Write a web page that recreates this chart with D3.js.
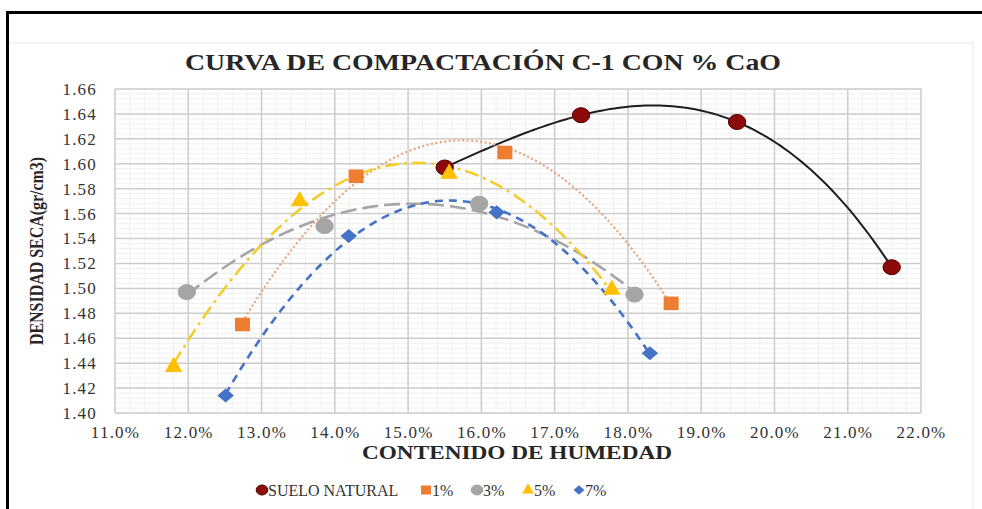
<!DOCTYPE html>
<html>
<head>
<meta charset="utf-8">
<script src="https://cdn.jsdelivr.net/npm/d3@7"></script>
<style>
  body { margin: 0; background: #fff; }
  svg { display: block; }
</style>
</head>
<body>
<svg id="chart" width="982" height="509"></svg>
<script>
// values (humidity %, dry density gr/cm3)
var sueloX = [15.5, 17.36, 19.49, 21.6];
var sueloY = [1.597, 1.639, 1.6335, 1.517];
var cal1X = [12.74, 14.29, 16.32, 18.59];
var cal1Y = [1.471, 1.590, 1.609, 1.488];
var cal3X = [11.98, 13.86, 15.97, 18.09];
var cal3Y = [1.497, 1.550, 1.568, 1.495];
var cal5X = [11.8, 13.52, 15.56, 17.78];
var cal5Y = [1.437, 1.570, 1.592, 1.499];
var cal7X = [12.51, 14.19, 16.21, 18.3];
var cal7Y = [1.414, 1.542, 1.561, 1.448];

var xTicks = [11, 12, 13, 14, 15, 16, 17, 18, 19, 20, 21, 22];
var yTicks = [1.40, 1.42, 1.44, 1.46, 1.48, 1.50, 1.52, 1.54, 1.56, 1.58, 1.60, 1.62, 1.64, 1.66];
var legendNames = ["SUELO NATURAL", "1%", "3%", "5%", "7%"];

var FONT = "'Liberation Serif', 'Times New Roman', Tinos, 'DejaVu Serif', serif";

var series = [
    { name: legendNames[0], xs: sueloX, ys: sueloY, order: 3, color: "#8b0a0a", stroke: "#5a0000",
      line: "#1e1e1e", dash: null, lw: 2, shape: "circle" },
    { name: legendNames[1], xs: cal1X, ys: cal1Y, order: 2, color: "#ed7d31", stroke: "#ed7d31",
      line: "#e9a47a", dash: "2,2.5", lw: 2.2, shape: "square" },
    { name: legendNames[2], xs: cal3X, ys: cal3Y, order: 2, color: "#a5a5a5", stroke: "#a5a5a5",
      line: "#a5a5a5", dash: "16,6", lw: 2.6, shape: "circle2" },
    { name: legendNames[3], xs: cal5X, ys: cal5Y, order: 2, color: "#ffc000", stroke: "#ffc000",
      line: "#f2cd2e", dash: "14,5,3,5", lw: 2.6, shape: "triangle" },
    { name: legendNames[4], xs: cal7X, ys: cal7Y, order: 2, color: "#4472c4", stroke: "#4472c4",
      line: "#4472c4", dash: "8,6", lw: 2.6, shape: "diamond" }
];

// least squares polynomial trendline, like the spreadsheet one
function polyFit(xs, ys, order) {
    var n = order + 1, A = [], i, j, k;
    for (i = 0; i < n; i++) {
        A.push([]);
        for (j = 0; j < n; j++) A[i].push(d3.sum(xs, function(x) { return Math.pow(x, i + j); }));
        A[i].push(d3.sum(xs, function(x, idx) { return ys[idx] * Math.pow(x, i); }));
    }
    for (i = 0; i < n; i++) {
        var p = i;
        for (k = i + 1; k < n; k++) if (Math.abs(A[k][i]) > Math.abs(A[p][i])) p = k;
        var t = A[i]; A[i] = A[p]; A[p] = t;
        for (k = i + 1; k < n; k++) {
            var f = A[k][i] / A[i][i];
            for (j = i; j <= n; j++) A[k][j] -= f * A[i][j];
        }
    }
    var c = new Array(n);
    for (i = n - 1; i >= 0; i--) {
        var s = A[i][n];
        for (j = i + 1; j < n; j++) s -= A[i][j] * c[j];
        c[i] = s / A[i][i];
    }
    return function(x) {
        var v = 0;
        for (var q = 0; q < n; q++) v += c[q] * Math.pow(x, q);
        return v;
    };
}

var svg = d3.select("#chart");
var plotL = 115, plotR = 921, plotT = 89, plotB = 413;

var x = d3.scaleLinear().domain([11, 22]).range([plotL, plotR]);
var y = d3.scaleLinear().domain([1.40, 1.66]).range([plotB, plotT]);

// outer frame
svg.append("rect").attr("x", 8).attr("y", 43).attr("width", 965).attr("height", 480)
    .attr("fill", "none").attr("stroke", "#e8e8e8");
svg.append("path").attr("d", "M7.5,520 V12.5 H982")
    .attr("fill", "none").attr("stroke", "#000").attr("stroke-width", 3);

// minor grid
var g = svg.append("g");
g.selectAll(".mx").data(d3.range(11, 22.001, 0.2)).enter().append("line")
    .attr("x1", function(d) { return x(d); }).attr("x2", function(d) { return x(d); })
    .attr("y1", plotT).attr("y2", plotB).attr("stroke", "#f0f0f0").attr("stroke-width", 1);
g.selectAll(".my").data(d3.range(1.40, 1.6601, 0.004)).enter().append("line")
    .attr("y1", function(d) { return y(d); }).attr("y2", function(d) { return y(d); })
    .attr("x1", plotL).attr("x2", plotR).attr("stroke", "#f0f0f0").attr("stroke-width", 1);

// major grid
g.selectAll(".gx").data(xTicks).enter().append("line")
    .attr("x1", function(d) { return x(d); }).attr("x2", function(d) { return x(d); })
    .attr("y1", plotT).attr("y2", plotB).attr("stroke", "#cdcdcd").attr("stroke-width", 1.5);
g.selectAll(".gy").data(yTicks).enter().append("line")
    .attr("y1", function(d) { return y(d); }).attr("y2", function(d) { return y(d); })
    .attr("x1", plotL).attr("x2", plotR).attr("stroke", "#cdcdcd").attr("stroke-width", 1.5);

// axes labels
var xAxis = svg.append("g").attr("transform", "translate(0," + plotB + ")")
    .call(d3.axisBottom(x).tickValues(xTicks).tickSize(0).tickPadding(13)
        .tickFormat(function(d) { return d.toFixed(1) + "%"; }));
var yAxis = svg.append("g").attr("transform", "translate(" + plotL + ",0)")
    .call(d3.axisLeft(y).tickValues(yTicks).tickSize(0).tickPadding(18)
        .tickFormat(d3.format(".2f")));
[xAxis, yAxis].forEach(function(a) {
    a.select(".domain").remove();
    a.attr("font-family", FONT);
    a.selectAll("text").attr("font-size", 17).style("font-family", FONT)
        .attr("fill", "#333").style("letter-spacing", "1.2px");
});

// trendlines
var line = d3.line().x(function(d) { return x(d[0]); }).y(function(d) { return y(d[1]); });
series.forEach(function(s) {
    var f = polyFit(s.xs, s.ys, s.order);
    var x0 = d3.min(s.xs), x1 = d3.max(s.xs);
    var pts = d3.range(0, 101).map(function(i) { var xv = x0 + (x1 - x0) * i / 100; return [xv, f(xv)]; });
    svg.append("path").datum(pts).attr("d", line).attr("fill", "none")
        .attr("stroke", s.line).attr("stroke-width", s.lw)
        .attr("stroke-dasharray", s.dash);
});

function marker(sel, s, size) {
    if (s.shape === "square") {
        sel.append("rect").attr("x", -size * 0.5).attr("y", -size * 0.45).attr("width", size).attr("height", size * 0.9)
            .attr("fill", s.color);
    } else if (s.shape === "triangle") {
        sel.append("path").attr("d", d3.symbol(d3.symbolTriangle, size * size * 0.6)())
            .attr("fill", s.color);
    } else if (s.shape === "diamond") {
        var r = size * 0.55;
        sel.append("path").attr("d", "M0," + (-r * 0.85) + "L" + r + ",0L0," + (r * 0.85) + "L" + (-r) + ",0Z")
            .attr("fill", s.color);
    } else {
        sel.append("ellipse").attr("rx", size * 0.58).attr("ry", size * 0.5)
            .attr("fill", s.color).attr("stroke", s.stroke).attr("stroke-width", 1);
    }
}

series.forEach(function(s) {
    s.xs.forEach(function(xv, i) {
        var m = svg.append("g").attr("transform", "translate(" + x(xv) + "," + y(s.ys[i]) + ")");
        marker(m, s, 15);
    });
});

// titles
svg.append("text").attr("x", 483).attr("y", 70).attr("text-anchor", "middle")
    .style("font-family", FONT)
    .attr("font-size", 23).attr("font-weight", "bold").attr("fill", "#262626")
    .attr("textLength", 596).attr("lengthAdjust", "spacingAndGlyphs")
    .text("CURVA DE COMPACTACIÓN C-1 CON % CaO");
svg.append("text").attr("x", 517).attr("y", 459).attr("text-anchor", "middle")
    .style("font-family", FONT).attr("fill", "#262626")
    .attr("font-size", 18).attr("font-weight", "bold")
    .attr("textLength", 310).attr("lengthAdjust", "spacingAndGlyphs")
    .text("CONTENIDO DE HUMEDAD");
svg.append("text").attr("transform", "translate(43,251) rotate(-90)").attr("text-anchor", "middle")
    .style("font-family", FONT).attr("fill", "#262626")
    .attr("font-size", 18).attr("font-weight", "bold")
    .attr("textLength", 188).attr("lengthAdjust", "spacingAndGlyphs")
    .text("DENSIDAD SECA(gr/cm3)");

// legend
var legX = [262, 426, 477, 528, 579];
series.forEach(function(s, i) {
    var lg = svg.append("g").attr("transform", "translate(" + legX[i] + ",490)");
    marker(lg.append("g"), s, 10);
    lg.append("text").attr("x", 6).attr("y", 5.5).attr("font-size", 16).attr("fill", "#333")
        .style("font-family", FONT).text(s.name);
});
</script>
</body>
</html>
